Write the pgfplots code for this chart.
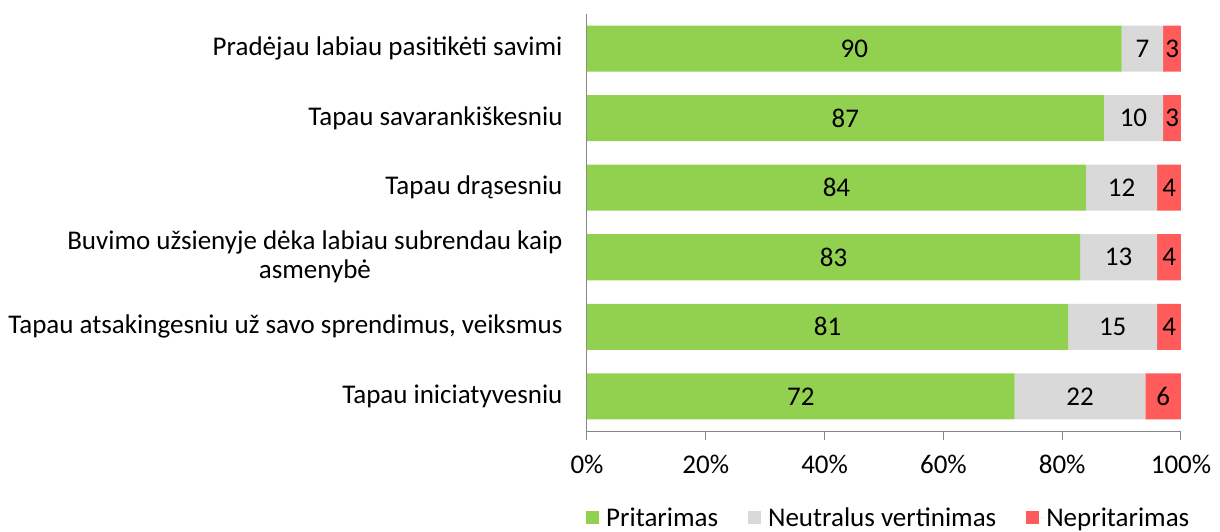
\documentclass[border=0pt]{standalone}
\usepackage{pgfplots}
\pgfplotsset{compat=1.18}
\usepackage{pgfplotstable}
\usepackage{fontspec}
\setmainfont{Carlito}

\definecolor{cgreen}{HTML}{92D050}
\definecolor{cgrey}{HTML}{D9D9D9}
\definecolor{cred}{HTML}{FF5B5B}
\definecolor{axgrey}{HTML}{868686}

\pgfplotstableread{
y agree neutral disagree
0 72 22 6
1 81 15 4
2 83 13 4
3 84 12 4
4 87 10 3
5 90 7 3
}\data
\pgfplotstablecreatecol[create col/expr={\thisrow{agree}/2}]{mA}{\data}
\pgfplotstablecreatecol[create col/expr={\thisrow{agree}+\thisrow{neutral}/2}]{mN}{\data}
\pgfplotstablecreatecol[create col/expr={\thisrow{agree}+\thisrow{neutral}+\thisrow{disagree}/2}]{mD}{\data}

\begin{document}
\begin{tikzpicture}[font=\fontsize{27bp}{29bp}\selectfont]
\begin{axis}[
  scale only axis, width=594bp, height=417bp,
  xbar stacked, bar width=46bp,
  xmin=0, xmax=100, ymin=-0.5, ymax=5.5,
  axis x line*=bottom, axis y line*=left,
  axis line style={axgrey, line width=1bp},
  /pgf/number format/assume math mode=true,
  xtick={0,20,40,60,80,100},
  xticklabels={0\%,20\%,40\%,60\%,80\%,100\%},
  xtick pos=left, ytick pos=left,
  tick align=outside,
  major tick length=9bp, minor tick length=9bp,
  xtick style={axgrey, line width=1bp},
  ytick={0,1,2,3,4,5},
  ytick style={draw=none},
  minor ytick={-0.5,0.5,1.5,2.5,3.5,4.5,5.5},
  minor y tick style={axgrey, line width=1bp},
  yticklabels={Tapau iniciatyvesniu, {Tapau atsakingesniu už savo sprendimus, veiksmus}, {Buvimo užsienyje dėka labiau subrendau kaip\\asmenybė}, Tapau drąsesniu, Tapau savarankiškesniu, Pradėjau labiau pasitikėti savimi},
  yticklabel style={align=center, xshift=-12bp},
  xticklabel style={yshift=-12bp},
  legend style={at={(0.508,-0.2086)}, anchor=center, draw=none, legend columns=3,
    /tikz/every even column/.append style={column sep=28bp}},
  legend image code/.code={\fill[#1] (0bp,-6.5bp) rectangle (13bp,6.5bp); \path (0bp,0bp) -- (18bp,0bp);},
]
\addplot[fill=cgreen, draw=none] table[x=agree, y=y] {\data};
\addplot[fill=cgrey, draw=none] table[x=neutral, y=y] {\data};
\addplot[fill=cred, draw=none] table[x=disagree, y=y] {\data};
\legend{Pritarimas, Neutralus vertinimas, Nepritarimas}
\end{axis}
\begin{axis}[
  scale only axis, width=594bp, height=417bp,
  xmin=0, xmax=100, ymin=-0.5, ymax=5.5,
  hide axis,
  /pgf/number format/assume math mode=true,
  point meta=explicit,
  nodes near coords,
  every node near coord/.append style={text=black, anchor=center},
]
\addplot[draw=none, mark=none] table[x=mA, y=y, meta=agree] {\data};
\addplot[draw=none, mark=none] table[x=mN, y=y, meta=neutral] {\data};
\addplot[draw=none, mark=none] table[x=mD, y=y, meta=disagree] {\data};
\end{axis}
\pgfresetboundingbox
\useasboundingbox (-587bp,-101bp) rectangle (633bp,431bp);
\end{tikzpicture}
\end{document}
